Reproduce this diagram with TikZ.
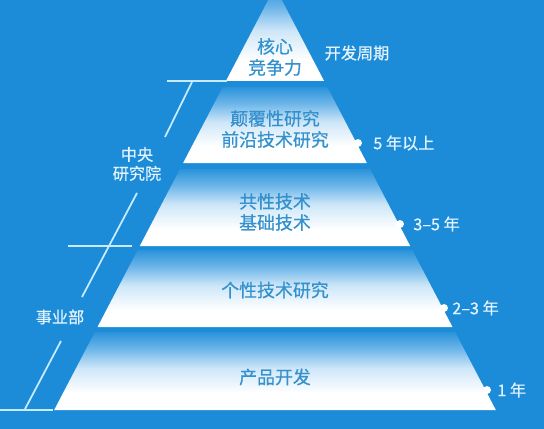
\documentclass[tikz,border=0pt]{standalone}
\usepackage{fontspec}
\newfontfamily\cjk[FakeBold=0.6]{Noto Sans CJK SC}
\usetikzlibrary{positioning}
\definecolor{bgblue}{RGB}{28,140,216}
\definecolor{laytop}{RGB}{42,147,219}
\definecolor{laysky}{RGB}{110,182,233}
\definecolor{laymid}{RGB}{205,230,248}
\definecolor{textblue}{RGB}{52,145,205}
\definecolor{paleline}{RGB}{200,236,255}
\definecolor{labelwhite}{RGB}{228,244,255}
\pgfdeclareverticalshading{band}{100bp}{color(0bp)=(white); color(36bp)=(white);
    color(52bp)=(laymid); color(64bp)=(laysky); color(75bp)=(laytop); color(100bp)=(laytop)}
\tikzset{
layer/.style={shading=band}, % shading of every band of the pyramid
inside/.style={font=\cjk\fontsize{10.2}{12}\selectfont, text=textblue, align=center}, % text in a band
outside/.style={font=\cjk\fontsize{9.2}{10.8}\selectfont, text=labelwhite, align=center, inner sep=0pt}, % text beside the pyramid
bracket/.style={draw=paleline, line width=1pt}, % the lines on the left
bump/.style={circle, fill=white, inner sep=0pt, minimum size=4.5pt}, % white dots on the right edge
}
\begin{document}
\begin{tikzpicture}[x=0.02cm, y=-0.02cm]
        \fill[bgblue] (0,0) rectangle (544,429);
        \useasboundingbox (0,0) rectangle (544,429);

        % Bands of the pyramid
        \foreach \t/\b in {-13/81, 87/163, 169/246, 250/327, 332/410}
            \shade[layer] ({275-0.522*(\t+13)},\t) -- ({275+0.522*(\t+13)},\t)
                -- ({275+0.522*(\b+13)},\b) -- ({275-0.522*(\b+13)},\b) -- cycle;

        \node[inside] (core) at (275,57) {核心\\竞争力};
        \node[inside] (frontier) at (275,129) {颠覆性研究\\前沿技术研究};
        \node[inside] (common) at (275,212) {共性技术\\基础技术};
        \node[inside] (special) at (275,290) {个性技术研究};
        \node[inside] (product) at (275,377) {产品开发};

        % Development cycles
        \node[outside] (cycle) at (357,53) {开发周期};
        \node[bump] (d5) at (358,143) {};
        \node[bump] (d35) at (400,224) {};
        \node[bump] (d23) at (444,308) {};
        \node[bump] (d1) at (487,390) {};
        \node[outside, anchor=west] (y5) at (373,143) {5 年以上};
        \node[outside, anchor=west] (y35) at (413,224) {3–5 年};
        \node[outside, anchor=west] (y23) at (452,308) {2–3 年};
        \node[outside, anchor=west] (y1) at (497,390) {1 年};

        % Who does it
        \node[outside] (central) at (137,164) {中央\\研究院};
        \node[outside] (division) at (60,317) {事业部};

        \coordinate (top l) at (167,81);
        \coordinate (top r) at (227,81);
        \coordinate (c up) at (192,82);
        \coordinate (c down) at (165,137);
        \coordinate (mid l) at (68,246);
        \coordinate (mid r) at (132,246);
        \coordinate (m up) at (137,193);
        \coordinate (m down) at (82,297);
        \coordinate (b up) at (61,341);
        \coordinate (b down) at (25,409);
        \coordinate (bot l) at (0,410);
        \coordinate (bot r) at (53,410);

        \draw[bracket] (top l) -- (top r);
        \draw[bracket] (c up) -- (c down);
        \draw[bracket] (mid l) -- (mid r);
        \draw[bracket] (m up) -- (m down);
        \draw[bracket] (b up) -- (b down);
        \draw[bracket] (bot l) -- (bot r);
    \end{tikzpicture}
\end{document}
